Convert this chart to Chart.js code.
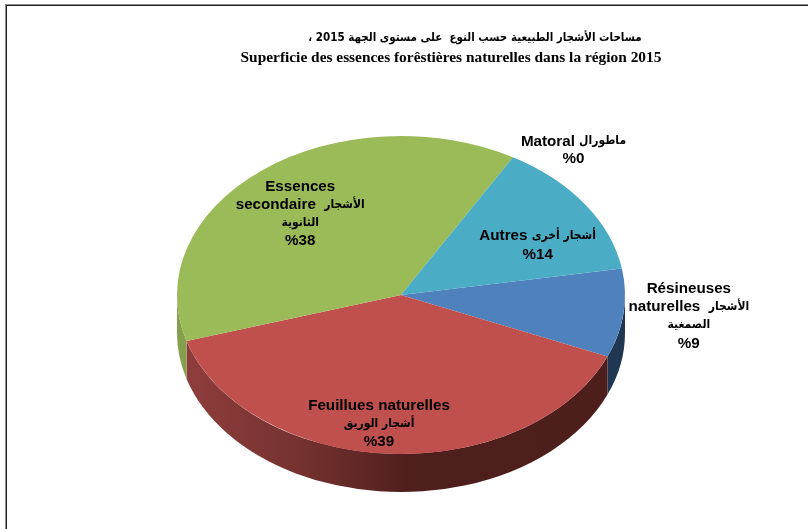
<!DOCTYPE html>
<html><head><meta charset="utf-8">
<style>html,body{margin:0;padding:0;background:#fff}#w{width:808px;height:529px;position:relative}</style>
<script src="https://cdn.jsdelivr.net/npm/chart.js@4/dist/chart.umd.min.js"></script>
</head><body><div id="w"><canvas id="c" width="808" height="529"></canvas></div>
<script>
const categories = ['Résineuses naturelles','Feuillues naturelles','Essences secondaire','Matoral','Autres'];
const values = [9,39,38,0,14];
const colors = ['#4f81bd','#c0504d','#9bbb59','#8064a2','#4bacc6'];
const titleLines = ['مساحات الأشجار الطبيعية حسب النوع  على مستوى الجهة 2015 ،','Superficie des essences forêstières naturelles dans la région 2015'];
const sliceLabels = [
 [[['Résineuses','L']],[['naturelles  ','L'],['الأشجار','A']],[['الصمغية','A']],[['%9','L']]],
 [[['Feuillues naturelles','L']],[['أشجار الوريق','A']],[['%39','L']]],
 [[['Essences','L']],[['secondaire  ','L'],['الأشجار','A']],[['الثانوية','A']],[['%38','L']]],
 [[['Matoral ','L'],['ماطورال','A']],[['%0','L']]],
 [[['Autres ','L'],['أشجار أخرى','A']],[['%14','L']]]
];
// label centres, first line, relative to pie centre in radius units
const labelPos = [[1.285,-0.028],[-0.098,0.493],[-0.45,-0.482],[0.77,-0.686],[0.61,-0.264]];
const labelLeading = [18.3,18,17.8,17,19];
const SQUASH = 159/224, DEPTH = 38;
const latinFont = 'bold 15.2px "Liberation Sans"', arabicFont = 'bold 12px "DejaVu Sans Condensed"';

function wallPath(ctx,a,b,cx,cy,r){
  ctx.beginPath();
  ctx.ellipse(cx,cy,r,r*SQUASH,0,a,b);
  ctx.ellipse(cx,cy+DEPTH,r,r*SQUASH,0,b,a,true);
  ctx.closePath();
}
const pie3d = {
  id:'pie3d',
  beforeDatasetsDraw(chart){
    const ctx=chart.ctx, arcs=chart.getDatasetMeta(0).data;
    const {x:cx,y:cy,outerRadius:r}=arcs[0];
    ctx.save();
    arcs.forEach((arc,i)=>{
      if(values[i]===0) return;
      // normalise to canvas angles and keep the front half only
      for(const shift of [0,-2*Math.PI,2*Math.PI]){
        const a=Math.max(arc.startAngle+shift,0), b=Math.min(arc.endAngle+shift,Math.PI);
        if(b<=a) continue;
        let fill;
        if(i===1){
          const g=ctx.createLinearGradient(cx-r,0,cx+r,0);
          g.addColorStop(0,'#913e3c');g.addColorStop(0.28,'#74322f');g.addColorStop(0.52,'#4f1f1d');g.addColorStop(1,'#4d1e1c');
          fill=g;
        } else fill=i===0?'#1f3752':i===2?'#84a04c':'#2b6a7c';
        ctx.fillStyle=fill;
        wallPath(ctx,a,b,cx,cy,r);
        ctx.fill();
      }
    });
    ctx.restore();
    ctx.save();
    ctx.translate(cx,cy);ctx.scale(1,SQUASH);ctx.translate(-cx,-cy);
  },
  afterDatasetsDraw(chart){ chart.ctx.restore(); },
  afterDraw(chart){
    const ctx=chart.ctx, arc=chart.getDatasetMeta(0).data[0];
    const {x:cx,y:cy,outerRadius:r}=arc;
    ctx.save();
    ctx.fillStyle='#8a8a8a';
    ctx.fillRect(5,4,803,1);ctx.fillRect(5,4,1,525);
    ctx.fillStyle='#222';
    ctx.fillRect(6,5,802,1);ctx.fillRect(6,5,1,524);
    ctx.fillStyle='#000';
    ctx.textBaseline='middle';
    ctx.textAlign='center';
    ctx.direction='rtl';
    ctx.font='bold 11.5px "DejaVu Sans Condensed"';
    ctx.fillText(titleLines[0],475,38);
    ctx.direction='ltr';
    ctx.font='bold 15.4px "Liberation Serif"';
    ctx.fillText(titleLines[1],451,58);
    ctx.textAlign='left';
    sliceLabels.forEach((lines,i)=>{
      const lx=cx+labelPos[i][0]*r; let ly=cy+labelPos[i][1]*r;
      lines.forEach(runs=>{
        let w=0;
        runs.forEach(([t,k])=>{ctx.font=k==='A'?arabicFont:latinFont;w+=ctx.measureText(t).width;});
        let x=lx-w/2;
        runs.forEach(([t,k])=>{ctx.font=k==='A'?arabicFont:latinFont;ctx.fillText(t,x,ly);x+=ctx.measureText(t).width;});
        ly+=labelLeading[i];
      });
    });
    ctx.restore();
  }
};
new Chart(document.getElementById('c'),{
  type:'pie',
  data:{labels:categories,datasets:[{data:values,backgroundColor:colors,borderWidth:0,hoverOffset:0}]},
  options:{
    responsive:false,animation:false,rotation:80.4,
    layout:{padding:{left:177,right:183,top:71,bottom:10}},
    plugins:{legend:{display:false},tooltip:{enabled:false}}
  },
  plugins:[pie3d]
});
</script></body></html>
